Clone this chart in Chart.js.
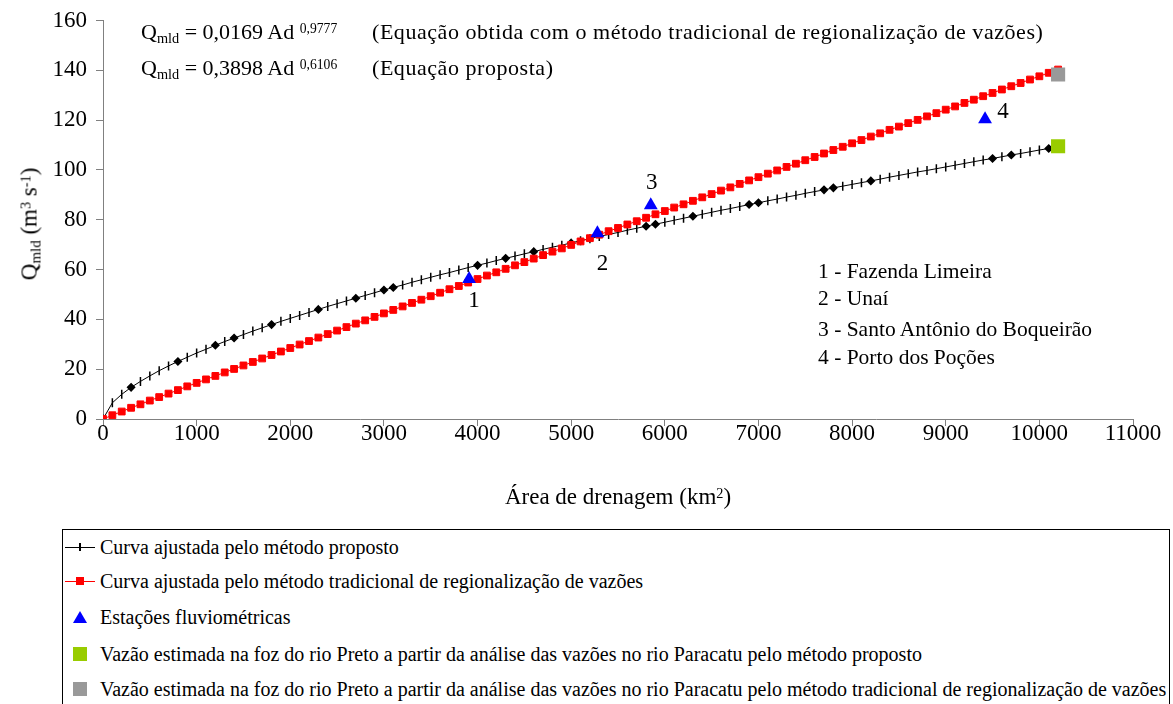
<!DOCTYPE html>
<html>
<head>
<meta charset="utf-8">
<script src="https://cdn.jsdelivr.net/npm/chart.js@4"></script>
<style>
  body { margin: 0; background: #fff; font-family: "Liberation Serif", "Times New Roman", serif; color: #000; }
  #page { position: relative; width: 1173px; height: 704px; overflow: hidden; }
  #wrap { position: absolute; left: 0; top: 0; width: 1173px; height: 520px; }
  .t { position: absolute; white-space: nowrap; line-height: 1; }
  .sub { font-size: 0.65em; position: relative; top: 0.25em; }
  .sup { font-size: 0.62em; position: relative; top: -0.45em; }
  #legend { position: absolute; left: 62px; top: 529px; width: 1106px; height: 200px; border: 1px solid #000; }
  .row { position: absolute; left: 64px; height: 20px; display: flex; align-items: center; font-size: 20px; white-space: nowrap; }
  .sym { position: relative; width: 32px; height: 20px; margin-right: 4px; }
  .ln { position: absolute; left: 1px; right: 1px; top: 10px; height: 1px; }
  .mk { position: absolute; }
</style>
</head>
<body>
<div id="page">
  <div id="wrap"><canvas id="chart"></canvas></div>

  <div class="t" style="left:141px; top:21px; font-size:22px;">Q<span class="sub">mld</span> = 0,0169 Ad <span class="sup">0,9777</span></div>
  <div class="t" style="left:372px; top:21px; font-size:22px; letter-spacing:0.55px;">(Equação obtida com o método tradicional de regionalização de vazões)</div>
  <div class="t" style="left:141px; top:57px; font-size:22px;">Q<span class="sub">mld</span> = 0,3898 Ad <span class="sup">0,6106</span></div>
  <div class="t" style="left:372px; top:57px; font-size:22px; letter-spacing:0.55px;">(Equação proposta)</div>

  <div class="t" style="left:818px; top:261px; font-size:21.5px;">1 - Fazenda Limeira</div>
  <div class="t" style="left:818px; top:288px; font-size:21.5px;">2 - Unaí</div>
  <div class="t" style="left:818px; top:319px; font-size:21.5px;">3 - Santo Antônio do Boqueirão</div>
  <div class="t" style="left:818px; top:347px; font-size:21.5px;">4 - Porto dos Poções</div>

  <div class="t" style="left:29px; top:224px; font-size:23px; transform: translate(-50%,-50%) rotate(-90deg);">Q<span class="sub">mld</span> (m<span class="sup">3</span> s<span class="sup">-1</span>)</div>
  <div class="t" style="left:618px; top:496px; font-size:23px; transform: translate(-50%,-50%);">Área de drenagem (km<span class="sup">2</span>)</div>

  <div id="legend"></div>
  <div class="row" style="top:537px;"><span class="sym"><span class="ln" style="background:#000"></span><span class="mk" style="left:15px; top:6px; width:1.5px; height:8px; background:#000"></span></span>Curva ajustada pelo método proposto</div>
  <div class="row" style="top:571px;"><span class="sym"><span class="ln" style="background:#f00"></span><span class="mk" style="left:12px; top:6px; width:8px; height:8px; background:#f00"></span></span>Curva ajustada pelo método tradicional de regionalização de vazões</div>
  <div class="row" style="top:607px;"><span class="sym"><span class="mk" style="left:9px; top:4px; width:0; height:0; border-left:7px solid transparent; border-right:7px solid transparent; border-bottom:12px solid #00f"></span></span>Estações fluviométricas</div>
  <div class="row" style="top:644px;"><span class="sym"><span class="mk" style="left:9px; top:3px; width:14px; height:14px; background:#99cc00"></span></span>Vazão estimada na foz do rio Preto a partir da análise das vazões no rio Paracatu pelo método proposto</div>
  <div class="row" style="top:679px;"><span class="sym"><span class="mk" style="left:9px; top:3px; width:14px; height:14px; background:#999999"></span></span>Vazão estimada na foz do rio Preto a partir da análise das vazões no rio Paracatu pelo método tradicional de regionalização de vazões</div>
</div>

<script>
// drainage area (km2), one point every 100 km2
const area = [0, 100, 200, 300, 400, 500, 600, 700, 800, 900,
  1000, 1100, 1200, 1300, 1400, 1500, 1600, 1700, 1800, 1900,
  2000, 2100, 2200, 2300, 2400, 2500, 2600, 2700, 2800, 2900,
  3000, 3100, 3200, 3300, 3400, 3500, 3600, 3700, 3800, 3900,
  4000, 4100, 4200, 4300, 4400, 4500, 4600, 4700, 4800, 4900,
  5000, 5100, 5200, 5300, 5400, 5500, 5600, 5700, 5800, 5900,
  6000, 6100, 6200, 6300, 6400, 6500, 6600, 6700, 6800, 6900,
  7000, 7100, 7200, 7300, 7400, 7500, 7600, 7700, 7800, 7900,
  8000, 8100, 8200, 8300, 8400, 8500, 8600, 8700, 8800, 8900,
  9000, 9100, 9200, 9300, 9400, 9500, 9600, 9700, 9800, 9900,
  10000, 10100, 10200];

// Curva ajustada pelo método proposto
const qProposto = [0, 6.5, 9.9, 12.7, 15.1, 17.3, 19.4, 21.3, 23.1, 24.8,
  26.5, 28.0, 29.6, 31.1, 32.5, 33.9, 35.3, 36.6, 37.9, 39.2,
  40.4, 41.6, 42.8, 44.0, 45.2, 46.3, 47.4, 48.5, 49.6, 50.7,
  51.8, 52.8, 53.8, 54.9, 55.9, 56.9, 57.9, 58.8, 59.8, 60.8,
  61.7, 62.6, 63.6, 64.5, 65.4, 66.3, 67.2, 68.1, 69.0, 69.8,
  70.7, 71.6, 72.4, 73.3, 74.1, 74.9, 75.8, 76.6, 77.4, 78.2,
  79.0, 79.8, 80.6, 81.4, 82.2, 83.0, 83.8, 84.5, 85.3, 86.1,
  86.8, 87.6, 88.3, 89.1, 89.8, 90.6, 91.3, 92.0, 92.8, 93.5,
  94.2, 94.9, 95.6, 96.3, 97.1, 97.8, 98.5, 99.2, 99.8, 100.5,
  101.2, 101.9, 102.6, 103.3, 104.0, 104.6, 105.3, 106.0, 106.6, 107.3,
  108.0, 108.6, 109.3];

// Curva ajustada pelo método tradicional
const qTradicional = [0, 1.5, 3.0, 4.5, 5.9, 7.4, 8.8, 10.2, 11.6, 13.1,
  14.5, 15.9, 17.3, 18.7, 20.1, 21.5, 22.9, 24.3, 25.7, 27.1,
  28.5, 29.9, 31.3, 32.7, 34.1, 35.5, 36.9, 38.3, 39.6, 41.0,
  42.4, 43.8, 45.2, 46.6, 47.9, 49.3, 50.7, 52.1, 53.4, 54.8,
  56.2, 57.6, 58.9, 60.3, 61.7, 63.0, 64.4, 65.8, 67.2, 68.5,
  69.9, 71.3, 72.6, 74.0, 75.4, 76.7, 78.1, 79.4, 80.8, 82.2,
  83.5, 84.9, 86.2, 87.6, 89.0, 90.3, 91.7, 93.0, 94.4, 95.8,
  97.1, 98.5, 99.8, 101.2, 102.5, 103.9, 105.2, 106.6, 108.0, 109.3,
  110.7, 112.0, 113.4, 114.7, 116.1, 117.4, 118.8, 120.1, 121.5, 122.8,
  124.2, 125.5, 126.9, 128.2, 129.6, 130.9, 132.3, 133.6, 134.9, 136.3,
  137.6, 139.0, 140.3];

// Estações fluviométricas
const stationLabel = ['1', '2', '3', '4'];
const stationArea = [3910, 5280, 5850, 9420];
const stationQ = [56.2, 74.6, 85.8, 120.4];

// Vazão estimada na foz do rio Preto
const fozArea = [10200];
const fozProposto = [109.5];
const fozTradicional = [138.3];

// areas where the black curve shows a diamond marker
const diamondAt = [300, 800, 1200, 1400, 1800, 2300, 2700, 3000, 3100, 4000, 4300, 4600,
  5000, 5800, 5900, 6300, 6900, 7000, 7700, 7800, 8200, 9500, 9700, 10100];

const xTicks = [0, 1000, 2000, 3000, 4000, 5000, 6000, 7000, 8000, 9000, 10000, 11000];
const yTicks = [0, 20, 40, 60, 80, 100, 120, 140, 160];

const pts = (xs, ys) => xs.map((x, i) => ({ x: x, y: ys[i] }));

// station numbers next to the triangles
const labelOffsets = [[5, 22], [5, 31], [1, -22], [18, -7]];
const stationNumbers = {
  id: 'stationNumbers',
  afterDatasetsDraw(chart) {
    const ctx = chart.ctx;
    const xs = chart.scales.x, ys = chart.scales.y;
    ctx.save();
    ctx.font = '23px "Liberation Serif", serif';
    ctx.fillStyle = '#000';
    ctx.textAlign = 'center';
    ctx.textBaseline = 'middle';
    stationLabel.forEach((lab, i) => {
      const px = xs.getPixelForValue(stationArea[i]) + labelOffsets[i][0];
      const py = ys.getPixelForValue(stationQ[i]) + labelOffsets[i][1];
      ctx.fillText(lab, px, py);
    });
    ctx.restore();
  }
};

const axisColor = '#808080';
const tickFont = { family: '"Liberation Serif", serif', size: 23, lineHeight: 1 };

new Chart(document.getElementById('chart').getContext('2d'), {
  type: 'line',
  data: {
    datasets: [
      {
        label: 'Vazão estimada na foz do rio Preto (método tradicional)',
        data: pts(fozArea, fozTradicional),
        showLine: false,
        pointStyle: 'rect',
        pointRadius: 10,
        pointBackgroundColor: '#999999',
        pointBorderWidth: 0,
        order: 0
      },
      {
        label: 'Vazão estimada na foz do rio Preto (método proposto)',
        data: pts(fozArea, fozProposto),
        showLine: false,
        pointStyle: 'rect',
        pointRadius: 10,
        pointBackgroundColor: '#99cc00',
        pointBorderWidth: 0,
        order: 0
      },
      {
        label: 'Estações fluviométricas',
        data: pts(stationArea, stationQ),
        showLine: false,
        pointStyle: 'triangle',
        pointRadius: 8,
        pointBackgroundColor: '#0000ff',
        pointBorderColor: '#0000ff',
        pointBorderWidth: 0,
        order: 1
      },
      {
        label: 'Curva ajustada pelo método tradicional de regionalização de vazões',
        data: pts(area, qTradicional),
        borderColor: '#ff0000',
        borderWidth: 1,
        pointStyle: 'rect',
        pointRadius: 4.8,
        pointBackgroundColor: '#ff0000',
        pointBorderColor: '#ff0000',
        pointBorderWidth: 1,
        tension: 0,
        order: 2
      },
      {
        label: 'Curva ajustada pelo método proposto',
        data: pts(area, qProposto),
        borderColor: '#000000',
        borderWidth: 1,
        pointStyle: c => diamondAt.includes(area[c.dataIndex]) ? 'rectRot' : 'line',
        pointRotation: 90,
        pointRadius: c => diamondAt.includes(area[c.dataIndex]) ? 3.5 : 4.5,
        pointBackgroundColor: '#000000',
        pointBorderColor: '#000000',
        pointBorderWidth: 1.5,
        tension: 0,
        order: 3
      }
    ]
  },
  options: {
    responsive: true,
    maintainAspectRatio: false,
    animation: false,
    layout: { padding: { top: 18, right: 40, left: 0, bottom: 0 } },
    plugins: {
      legend: { display: false },
      tooltip: { enabled: false }
    },
    scales: {
      x: {
        type: 'linear',
        min: 0,
        max: 11000,
        afterFit: s => { s.height = 101; },
        afterBuildTicks: s => { s.ticks = xTicks.map(v => ({ value: v })); },
        grid: { display: true, drawOnChartArea: false, drawTicks: true, tickLength: 7, color: axisColor },
        border: { display: true, color: axisColor, width: 1 },
        ticks: { color: '#000', font: tickFont, padding: -4, maxRotation: 0, callback: v => String(v) }
      },
      y: {
        min: 0,
        max: 160,
        afterFit: s => { s.width = 103; },
        afterBuildTicks: s => { s.ticks = yTicks.map(v => ({ value: v })); },
        grid: { display: true, drawOnChartArea: false, drawTicks: true, tickLength: 7, color: axisColor },
        border: { display: true, color: axisColor, width: 1 },
        ticks: { color: '#000', font: tickFont, padding: 9, callback: v => String(v) }
      }
    }
  },
  plugins: [stationNumbers]
});
</script>
</body>
</html>
